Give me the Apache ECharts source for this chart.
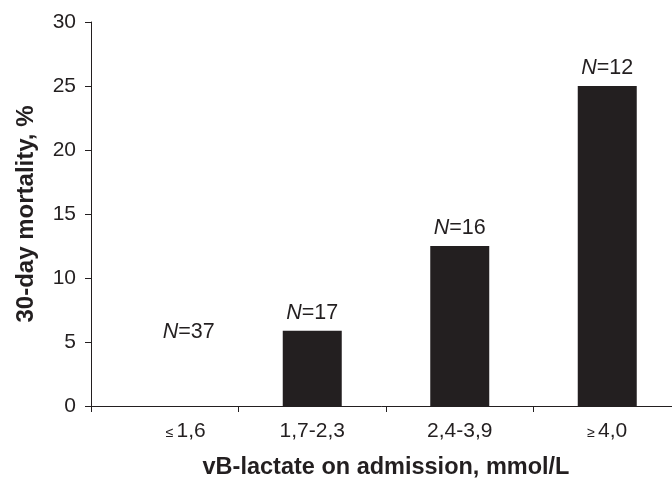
<!DOCTYPE html>
<html>
<head>
<meta charset="utf-8">
<script src="https://cdn.jsdelivr.net/npm/echarts@6/dist/echarts.min.js"></script>
<style>
  html, body { margin: 0; padding: 0; background: #fff; }
  #chart { width: 672px; height: 479px; }
</style>
</head>
<body>
<div id="chart"></div>
<script>
var categories = ['≤1,6', '1,7-2,3', '2,4-3,9', '≥4,0']
var mortality = [0, 5.88, 12.5, 25]
var counts = [37, 17, 16, 12]
var yTicks = [0, 5, 10, 15, 20, 25, 30]

var ink = '#231f20'
var font = 'Arial, "Liberation Sans", sans-serif'

var chart = echarts.init(document.getElementById('chart'))

var barData = mortality.map(function (v, i) {
  var item = { value: v }
  // the empty first group has its label floating above the axis
  if (v === 0) {
    item.label = { offset: [24, -56] }
  }
  return item
})

chart.setOption({
  animation: false,
  grid: {
    left: 91,
    top: 22,
    width: 590,
    height: 384,
    outerBoundsMode: 'none',
  },
  xAxis: {
    type: 'category',
    data: categories,
    name: 'vB-lactate on admission, mmol/L',
    nameLocation: 'middle',
    nameGap: 50,
    nameTextStyle: {
      fontFamily: font,
      fontSize: 23.5,
      fontWeight: 'bold',
      color: ink,
    },
    axisLine: { lineStyle: { color: ink, width: 1 } },
    axisTick: { show: true, length: 6, lineStyle: { color: ink } },
    axisLabel: {
      margin: 15,
      fontFamily: font,
      fontSize: 21,
      color: ink,
      formatter: function (v, i) {
        var s = v.charAt(0)
        if (s === '≤' || s === '≥') {
          return (i === 0 ? '{p|}' : '') + '{s|' + s + '}' + v.slice(1)
        }
        return v
      },
      rich: {
        s: { fontFamily: font, fontSize: 14, color: ink, padding: [4, 3, 0, 0] },
        p: { width: 42 },
      },
    },
  },
  yAxis: {
    type: 'value',
    min: yTicks[0],
    max: yTicks[yTicks.length - 1],
    interval: 5,
    name: '30-day mortality, %',
    nameLocation: 'middle',
    nameGap: 53,
    nameTextStyle: {
      fontFamily: font,
      fontSize: 24,
      fontWeight: 'bold',
      color: ink,
    },
    axisLine: { show: true, lineStyle: { color: ink, width: 1 } },
    axisTick: { show: true, length: 6, lineStyle: { color: ink } },
    splitLine: { show: false },
    axisLabel: {
      margin: 15,
      fontFamily: font,
      fontSize: 21,
      color: ink,
    },
  },
  series: [
    {
      type: 'bar',
      barWidth: '40%',
      itemStyle: { color: ink },
      label: {
        show: true,
        position: 'top',
        distance: 7,
        fontFamily: font,
        fontSize: 21.5,
        color: ink,
        formatter: function (p) {
          return '{i|N}=' + counts[p.dataIndex]
        },
        rich: {
          i: { fontFamily: font, fontSize: 21.5, fontStyle: 'italic', color: ink },
        },
      },
      data: barData,
    },
  ],
})
</script>
</body>
</html>
